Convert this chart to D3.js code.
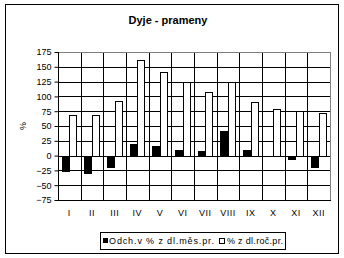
<!DOCTYPE html>
<html><head><meta charset="utf-8">
<script src="https://cdn.jsdelivr.net/npm/d3@7"></script>
<style>body{margin:0;background:#fff;}svg{display:block;}text{font-family:"Liberation Sans",Arial,sans-serif;}</style>
</head><body>
<script>
const months = ["I","II","III","IV","V","VI","VII","VIII","IX","X","XI","XII"];
const odchMes = [-27,-31,-21,19,17,10,8,41,10,0,-8,-21];
const procRoc = [69,69,93,162,142,124,108,124,91,79,75,72];
const yTicks = [-75,-50,-25,0,25,50,75,100,125,150,175];
const seriesNames = ["Odch.v % z  dl.měs.pr.","% z  dl.roč.pr."];

const W=344,H=258;
const svg=d3.select("body").append("svg").attr("width",W).attr("height",H);
svg.append("rect").attr("x",5.5).attr("y",4.5).attr("width",333).attr("height",249).attr("fill","#fff").attr("stroke","#000");

const L=58,R=330,T=52,B=200;
const x=d3.scaleBand().domain(months).range([L,R]).padding(0);
const y=d3.scaleLinear().domain([-75,175]).range([B,T]);
const bw=x.bandwidth()/3;

svg.append("g").selectAll("line").data(yTicks.filter(v=>v!==175)).join("line")
 .attr("x1",L).attr("x2",R).attr("y1",d=>Math.round(y(d))+0.5).attr("y2",d=>Math.round(y(d))+0.5).attr("stroke","#000");
svg.append("g").selectAll("line").data(months.slice(1)).join("line")
 .attr("x1",d=>Math.round(x(d))+0.5).attr("x2",d=>Math.round(x(d))+0.5).attr("y1",T).attr("y2",B).attr("stroke","#000");
svg.append("line").attr("x1",L).attr("x2",R).attr("y1",T+0.5).attr("y2",T+0.5).attr("stroke","#808080");
svg.append("line").attr("x1",R+0.5).attr("x2",R+0.5).attr("y1",T).attr("y2",B).attr("stroke","#808080");

svg.append("g").selectAll("rect").data(procRoc).join("rect")
 .attr("x",(d,i)=>Math.round(x(months[i])+x.bandwidth()/2)+0.5)
 .attr("width",Math.round(bw)-1)
 .attr("y",d=>Math.round(y(d))+0.5).attr("height",d=>Math.round(y(0))-Math.round(y(d)))
 .attr("fill","#fff").attr("stroke","#000");
svg.append("g").selectAll("rect").data(odchMes).join("rect")
 .attr("x",(d,i)=>Math.round(x(months[i])+x.bandwidth()/2-bw))
 .attr("width",Math.round(bw))
 .attr("y",d=>Math.round(y(Math.max(0,d))))
 .attr("height",d=>Math.abs(Math.round(y(d))-Math.round(y(0))))
 .attr("fill","#000");

const ya=svg.append("g").attr("transform",`translate(${L+0.5},0)`)
 .call(d3.axisLeft(y).tickValues(yTicks).tickSize(4).tickPadding(3));
ya.select(".domain").attr("d",`M-0,${T}V${B}`).attr("stroke","#000");
ya.selectAll("text").attr("font-size","9px").attr("font-family","Liberation Sans, Arial, sans-serif");
svg.append("line").attr("x1",L).attr("x2",R+1).attr("y1",B+0.5).attr("y2",B+0.5).attr("stroke","#000");
svg.append("g").selectAll("text").data(months).join("text")
 .attr("x",d=>x(d)+x.bandwidth()/2).attr("y",216).attr("text-anchor","middle")
 .attr("font-size","9px").attr("letter-spacing","0.5px").text(d=>d);

svg.append("text").attr("x",168).attr("y",24).attr("text-anchor","middle")
 .attr("font-size","11px").attr("font-weight","bold").text("Dyje - prameny");
svg.append("text").attr("transform","translate(26,126) rotate(-90)").attr("text-anchor","middle")
 .attr("font-size","9px").text("%");

const lg=svg.append("g");
lg.append("rect").attr("x",100.5).attr("y",232.5).attr("width",185).attr("height",17).attr("fill","#fff").attr("stroke","#000");
lg.append("rect").attr("x",103).attr("y",238).attr("width",5).attr("height",5).attr("fill","#000");
lg.append("text").attr("x",109).attr("y",244).attr("font-size","9px").attr("textLength",105).attr("lengthAdjust","spacing").text(seriesNames[0]);
lg.append("rect").attr("x",219.5).attr("y",238.5).attr("width",5).attr("height",5).attr("fill","#fff").attr("stroke","#000");
lg.append("text").attr("x",227).attr("y",244).attr("font-size","9px").attr("textLength",56).attr("lengthAdjust","spacing").text(seriesNames[1]);
</script>
</body></html>
